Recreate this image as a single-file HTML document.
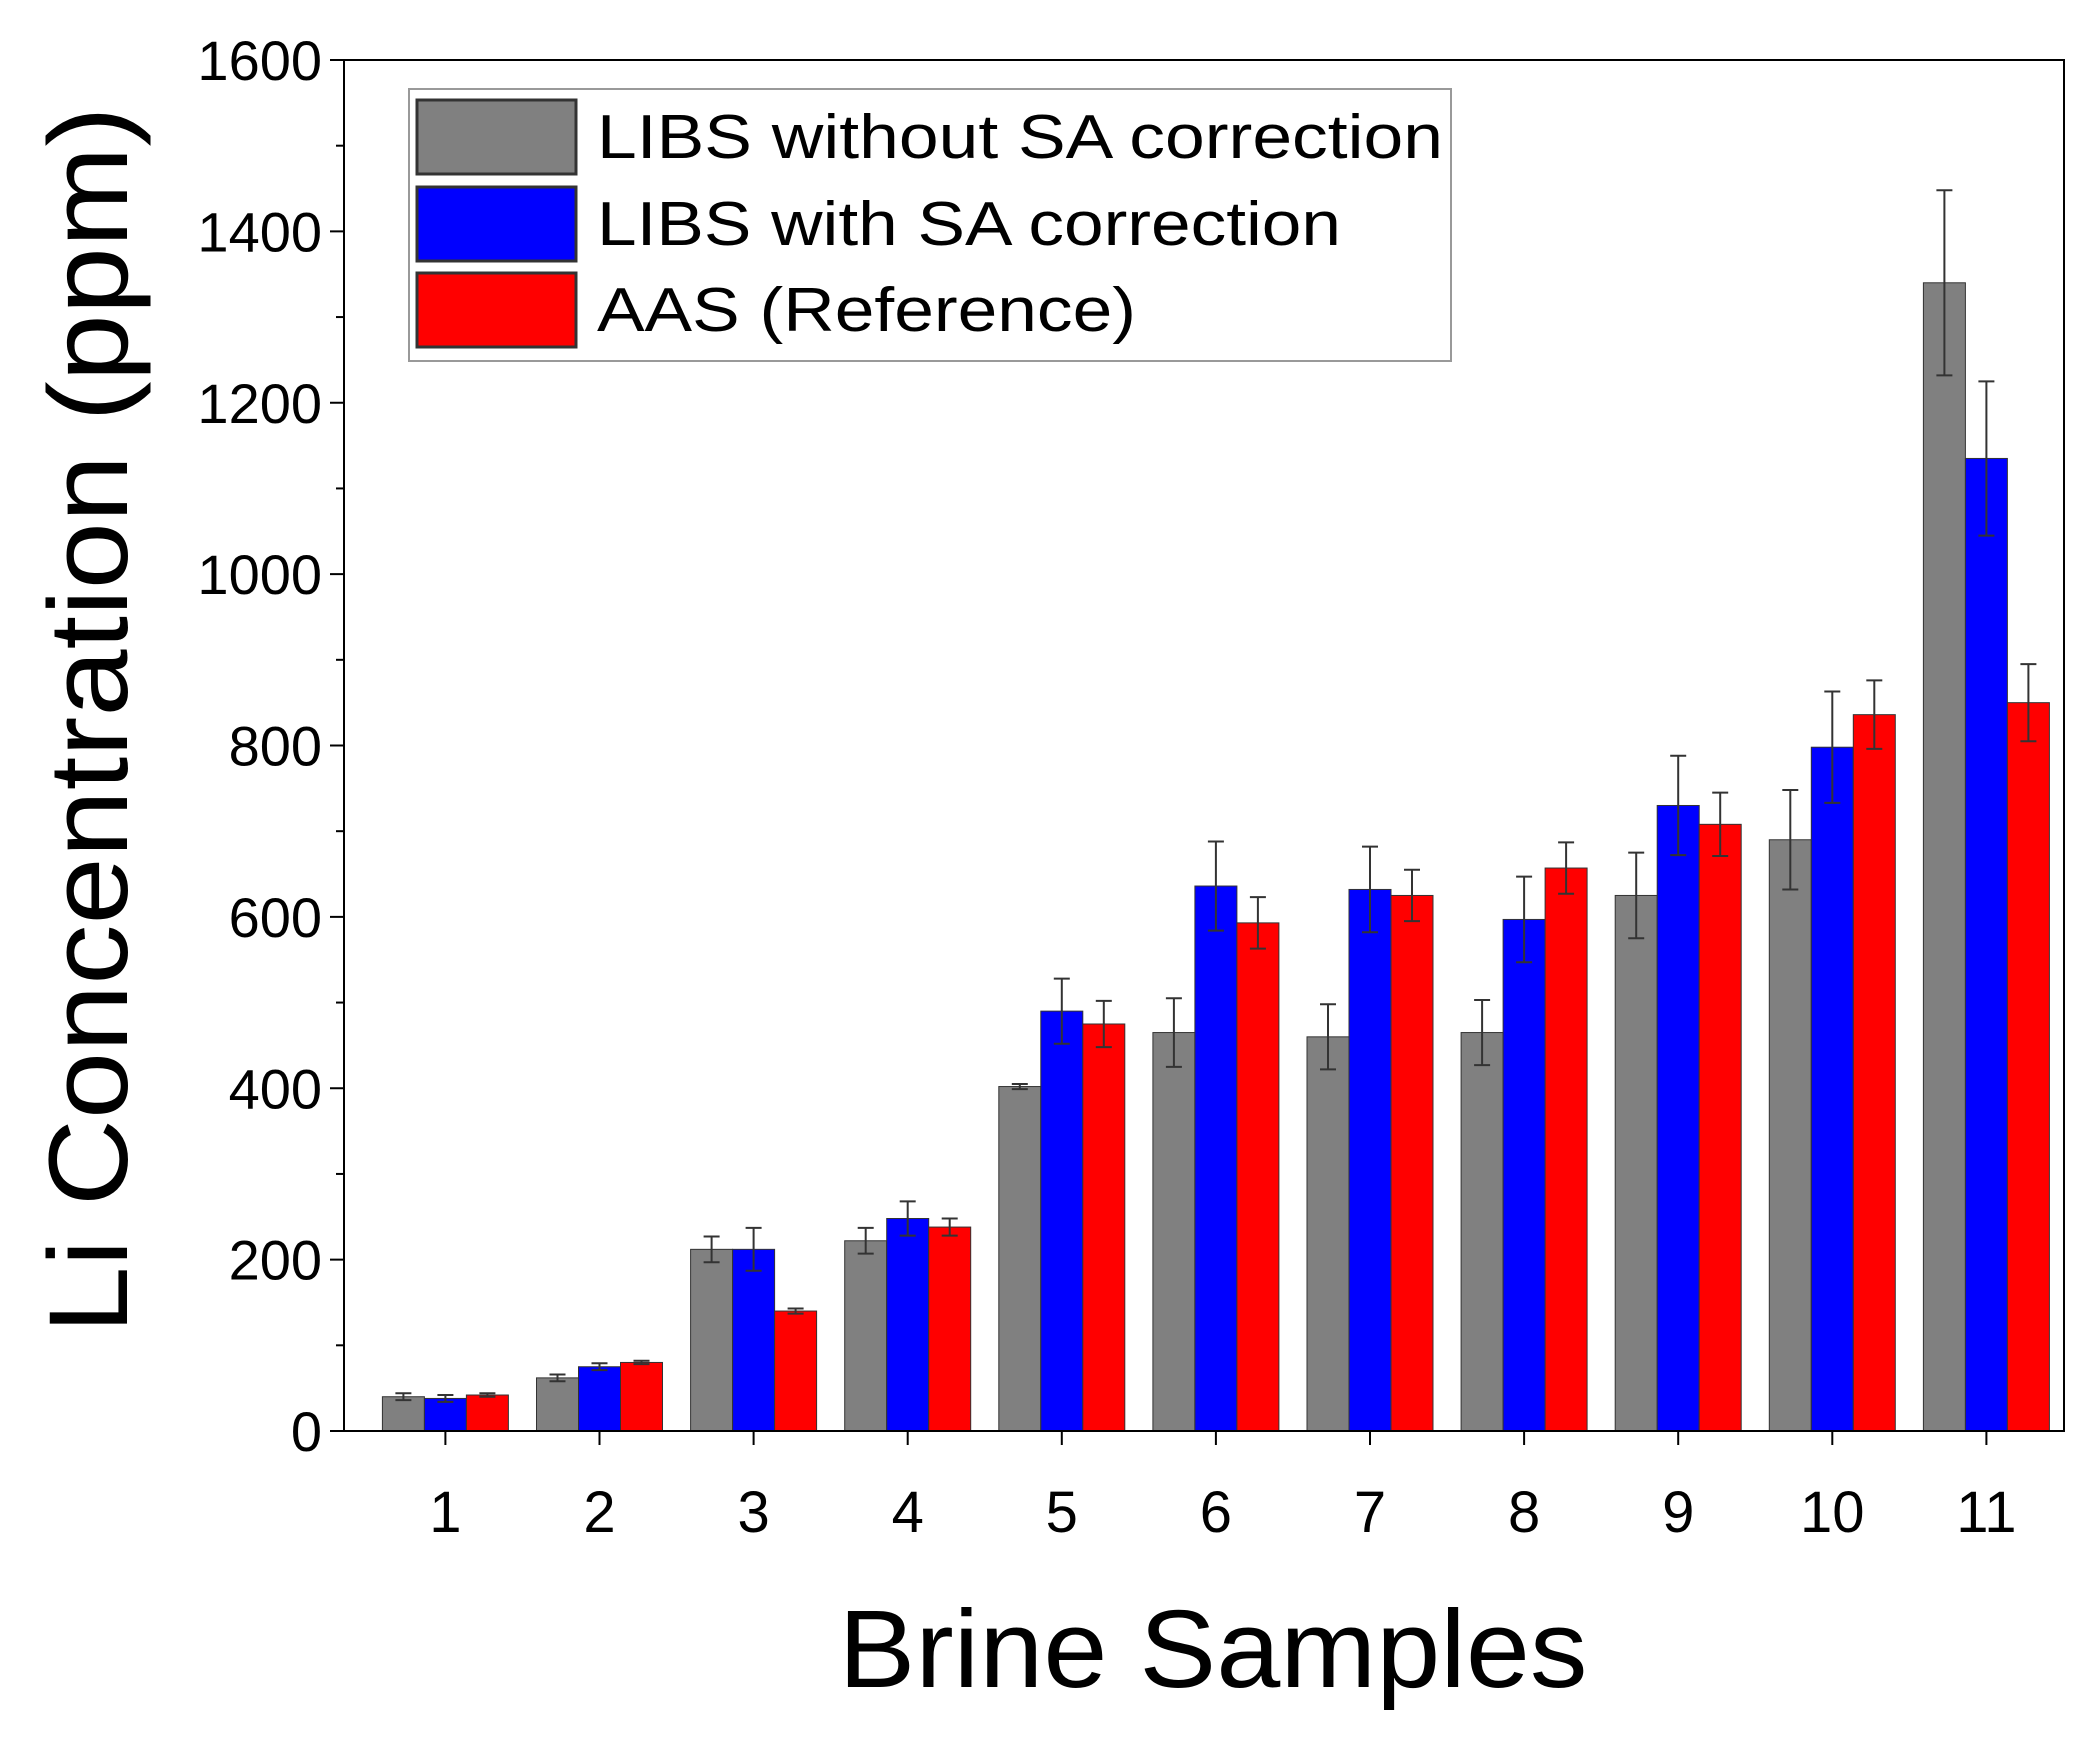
<!DOCTYPE html>
<html><head><meta charset="utf-8"><style>body{margin:0;background:#fff}svg{display:block}</style></head>
<body>
<svg id="c" width="2091" height="1737" xmlns="http://www.w3.org/2000/svg" font-family="Liberation Sans, Arial, sans-serif"></svg>
<script>
const categories=["1","2","3","4","5","6","7","8","9","10","11"];
const grayVals=[40,62,212,222,402,465,460,465,625,690,1340];
const blueVals=[38,75,212,248,490,636,632,597,730,798,1135];
const redVals=[42,80,140,238,475,593,625,657,708,836,850];
const grayErr=[4,4,15,15,3,40,38,38,50,58,108];
const blueErr=[4,4,25,20,38,52,50,50,58,65,90];
const redErr=[2,2,3,10,27,30,30,30,37,40,45];
const yTicks=[0,200,400,600,800,1000,1200,1400,1600];
const L=344,R=2064,T=60,B=1431;
const y=v=>B-(v/1600)*(B-T);
const x=i=>445.4+i*154.1;
const bw=42;
const svg=document.getElementById('c');
const NS="http://www.w3.org/2000/svg";
function mk(t,a,p){const e=document.createElementNS(NS,t);for(const k in a)e.setAttribute(k,a[k]);(p||svg).appendChild(e);return e;}
const series=[[grayVals,grayErr,'#808080','gray'],[blueVals,blueErr,'#0000ff','blue'],[redVals,redErr,'#ff0000','red']];
series.forEach((s,si)=>{
  s[0].forEach((v,i)=>{
    const cx=x(i)+(si-1)*bw;
    const r=mk('rect',{x:cx-bw/2,y:y(v),width:bw,height:B-y(v),fill:s[2],stroke:'#333','stroke-width':1});
    
    
    const e=s[1][i];
    const g=mk('path',{d:`M${cx},${y(v+e)}V${y(v-e)}M${cx-8},${y(v+e)}H${cx+8}M${cx-8},${y(v-e)}H${cx+8}`,stroke:'#333','stroke-width':2,fill:'none'});
    
    
  });
});
mk('rect',{x:L,y:T,width:R-L,height:B-T,fill:'none',stroke:'#000','stroke-width':2,});
yTicks.forEach(v=>{
  mk('line',{x1:L-14,x2:L,y1:y(v),y2:y(v),stroke:'#000','stroke-width':2});
  mk('line',{x1:L-8,x2:L,y1:y(v+100),y2:y(v+100),stroke:'#000','stroke-width':2});
  const t=mk('text',{x:322,y:y(v)+20,'text-anchor':'end','font-size':56});
  t.textContent=v;
  
  
});
categories.forEach((c,i)=>{
  mk('line',{x1:x(i),x2:x(i),y1:B,y2:B+14,stroke:'#000','stroke-width':2});
  const t=mk('text',{x:x(i),y:1532,'text-anchor':'middle','font-size':58});
  t.textContent=c;
  
  
});
const yt=mk('text',{x:0,y:0,'text-anchor':'middle','font-size':112,textLength:1227,lengthAdjust:'spacingAndGlyphs',transform:'translate(127,720) rotate(-90)',});
yt.textContent='Li Concentration (ppm)';
const xt=mk('text',{x:1213,y:1687,'text-anchor':'middle','font-size':110,textLength:749,lengthAdjust:'spacingAndGlyphs',});
xt.textContent='Brine Samples';
const lg=mk('g',{});
mk('rect',{x:409,y:89,width:1042,height:272,fill:'#fff',stroke:'#999','stroke-width':2},lg);
[['LIBS without SA correction','#808080',100,846],['LIBS with SA correction','#0000ff',187,744],['AAS (Reference)','#ff0000',273,539]].forEach(([lab,col,yy,len])=>{
  const ent=mk('g',{},lg);
  mk('rect',{x:417,y:yy,width:159,height:74,fill:col,stroke:'#333','stroke-width':3},ent);
  const t=mk('text',{x:597,y:yy+58,'font-size':62,textLength:len,lengthAdjust:'spacingAndGlyphs'},ent);t.textContent=lab;
});
</script>
</body></html>
